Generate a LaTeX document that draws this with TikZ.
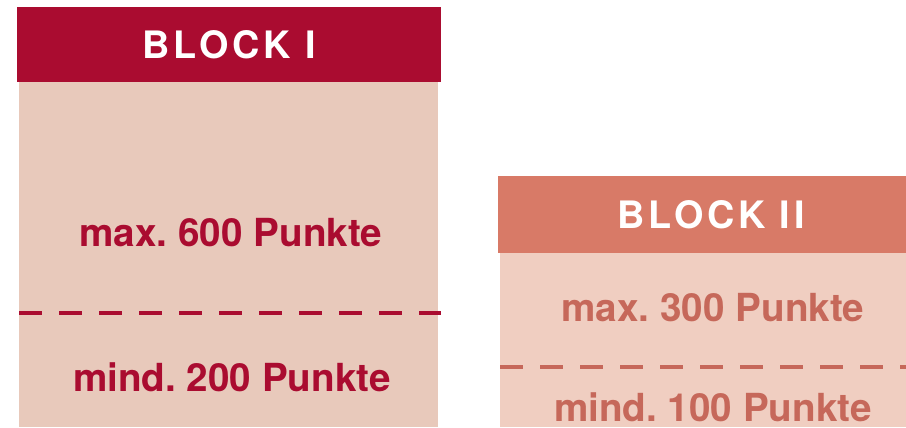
\documentclass[tikz,border=0pt]{standalone}
\usepackage{fontspec}
\setmainfont{TeX Gyre Heros}
\frenchspacing
\usetikzlibrary{positioning}

\definecolor{blockired}{HTML}{AA0C30}
\definecolor{blockilight}{HTML}{E8C9BB}
\definecolor{blockiired}{HTML}{D87A67}
\definecolor{blockiilight}{HTML}{F0CEC1}
\definecolor{blockiitext}{HTML}{C6685A}

\tikzset{
	headbox/.style={fill=#1, text=white, inner sep=0pt,
		font=\bfseries\fontsize{21.5}{24}\selectfont\addfontfeatures{LetterSpace=10}},
	points/.style={text=#1, inner sep=0pt,
		font=\bfseries\fontsize{22}{24}\selectfont},
	limit/.style={draw=#1, line width=0.085cm, dash pattern=on 0.46cm off 0.34cm}
}

\begin{document}
\begin{tikzpicture}
	\useasboundingbox (0,0) rectangle (18.12,8.54);

	%bodies
	\fill[blockilight] (0.38,0) rectangle (8.76,6.90);
	\fill[blockiilight] (10.00,0) rectangle (18.12,3.48);

	%headers (block II runs past the right edge)
	\node[headbox=blockired, minimum width=8.48cm, minimum height=1.50cm] (headI) at (4.58,7.65) {BLOCK I};
	\node[headbox=blockiired, minimum width=8.52cm, minimum height=1.54cm] (headII) at (14.22,4.25) {BLOCK II};

	%separators
	\coordinate (sepIa) at (0.38,2.28);
	\coordinate (sepIb) at (8.82,2.28);
	\coordinate (sepIIa) at (10.00,1.20);
	\coordinate (sepIIb) at (18.12,1.20);
	\draw[limit=blockired] (sepIa) -- (sepIb);
	\draw[limit=blockiitext] (sepIIa) -- (sepIIb);

	%labels
	\node[points=blockired] (maxI) at (4.62,3.88) {max. 600 Punkte};
	\node[points=blockired] (minI) at (4.64,1.00) {mind. 200 Punkte};
	\node[points=blockiitext] (maxII) at (14.26,2.38) {max. 300 Punkte};
	\node[points=blockiitext] (minII) at (14.26,0.40) {mind. 100 Punkte};
\end{tikzpicture}
\end{document}
